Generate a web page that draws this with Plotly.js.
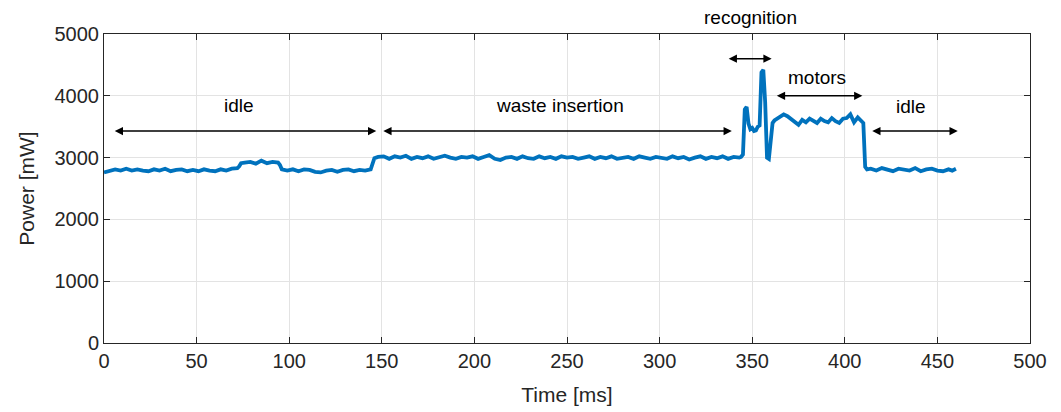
<!DOCTYPE html>
<html>
<head>
<meta charset="utf-8">
<script src="https://cdn.plot.ly/plotly-3.0.1.min.js"></script>
<style>html,body{margin:0;padding:0;background:#fff;}#chart{width:1061px;height:412px;}</style>
</head>
<body>
<div id="chart"></div>
<script>
// Time samples [ms]
var timeMs = [
  0,3,6,9,12,15,18,21,24,27,30,33,36,39,42,45,48,51,54,57,60,63,66,69,72,
  73,74,76,79,82,85,88,91,94,95,
  96,99,102,105,108,111,114,117,120,123,126,129,132,135,138,141,144,
  146,148,151,154,157,160,163,166,169,172,175,178,181,184,187,190,193,196,199,202,205,208,211,214,217,220,223,226,229,232,235,238,241,244,247,250,253,256,259,262,265,268,271,274,277,280,283,286,289,292,295,298,301,304,307,310,313,316,319,322,325,328,331,334,337,340,343,
  344,345,346,347,348,349,350,351,352,353,354,355,356,357,358,359,360,361,362,
  363,365,367,369,371,373,375,377,379,381,383,385,387,389,391,393,395,397,399,401,403,405,407,409,410,
  411,412,414,417,420,423,426,429,432,435,438,441,444,447,450,453,456,458,460
];
// Power [mW]
var powerMw = [
  2760,2790,2810,2790,2820,2790,2810,2790,2780,2810,2790,2820,2780,2800,2810,2780,2800,2780,2810,2790,2780,2810,2790,2820,2830,
  2860,2910,2920,2930,2900,2950,2910,2930,2920,2880,
  2810,2790,2810,2780,2810,2800,2770,2760,2790,2800,2770,2800,2810,2780,2800,2790,2810,
  2990,3010,3020,2980,3020,3000,3030,2980,3010,2990,3020,2980,3000,3030,3000,2980,3010,3000,3020,2980,3010,3040,2980,2960,3000,3010,2980,3020,2990,2980,3020,2990,3010,2980,3020,3000,3010,2980,3000,3020,2980,3010,2990,3020,2980,3000,3010,2980,3020,3000,2980,3010,3000,2980,3020,2990,3010,2970,3000,3020,2980,3010,2990,3020,2980,3010,3000,
  3010,3050,3780,3820,3550,3460,3480,3430,3440,3500,3520,4380,4420,3900,3000,2980,3300,3560,3600,
  3620,3660,3700,3670,3620,3560,3530,3610,3570,3630,3590,3560,3630,3590,3570,3640,3590,3560,3630,3640,3700,3570,3650,3600,3560,
  2850,2810,2820,2790,2830,2800,2780,2820,2800,2790,2830,2780,2810,2820,2790,2780,2810,2790,2820
];
// Phase annotations
var phaseLabels = ["idle","waste insertion","recognition","motors","idle"];
var phaseStart  = [5, 150, 336.5, 362.5, 414];
var phaseEnd    = [147, 339, 360.5, 409.5, 461];
var phaseArrowY = [3430, 3430, 4600, 4000, 3430];
var phaseTextX  = [73, 246, 349, 385, 436];
var phaseTextY  = [3840, 3840, 5275, 4300, 3820];

var FONT = 'Liberation Sans, Arial, Helvetica, sans-serif';
var annotations = [];
for (var i = 0; i < phaseLabels.length; i++) {
  annotations.push({
    x: phaseEnd[i], y: phaseArrowY[i], ax: phaseStart[i], ay: phaseArrowY[i],
    xref: 'x', yref: 'y', axref: 'x', ayref: 'y',
    text: '', showarrow: true, arrowside: 'end+start',
    arrowhead: 2, arrowsize: 1.1, arrowwidth: 1.5, arrowcolor: '#000'
  });
  var above = phaseTextY[i] > 5000;
  annotations.push({
    x: phaseTextX[i], xref: 'x',
    y: above ? phaseTextY[i] / 5000 : phaseTextY[i], yref: above ? 'paper' : 'y',
    xanchor: 'center', yanchor: 'middle',
    text: phaseLabels[i], showarrow: false,
    font: {family: FONT, size: 19, color: '#000'}
  });
}

var trace = {
  x: timeMs, y: powerMw, type: 'scatter', mode: 'lines',
  line: {color: '#0072BD', width: 3.8}, hoverinfo: 'none'
};

var axisCommon = {
  showline: true, mirror: 'ticks', linecolor: '#262626', linewidth: 1,
  ticks: 'inside', ticklen: 6, tickcolor: '#262626', tickwidth: 1,
  showgrid: true, gridcolor: '#e3e3e3', gridwidth: 1, zeroline: false,
  tickfont: {family: FONT, size: 20, color: '#262626'}
};

var layout = {
  width: 1061, height: 412,
  margin: {l: 104, r: 31, t: 34, b: 69},
  paper_bgcolor: '#fff', plot_bgcolor: '#fff',
  showlegend: false,
  xaxis: Object.assign({}, axisCommon, {
    range: [0, 500], dtick: 50, tick0: 0,
    title: {text: 'Time [ms]', standoff: 16, font: {family: FONT, size: 21, color: '#262626'}}
  }),
  yaxis: Object.assign({}, axisCommon, {
    range: [0, 5000], dtick: 1000, tick0: 0,
    title: {text: 'Power [mW]', standoff: 14, font: {family: FONT, size: 21, color: '#262626'}}
  }),
  annotations: annotations
};

Plotly.newPlot('chart', [trace], layout, {displayModeBar: false, staticPlot: true});
</script>
</body>
</html>
